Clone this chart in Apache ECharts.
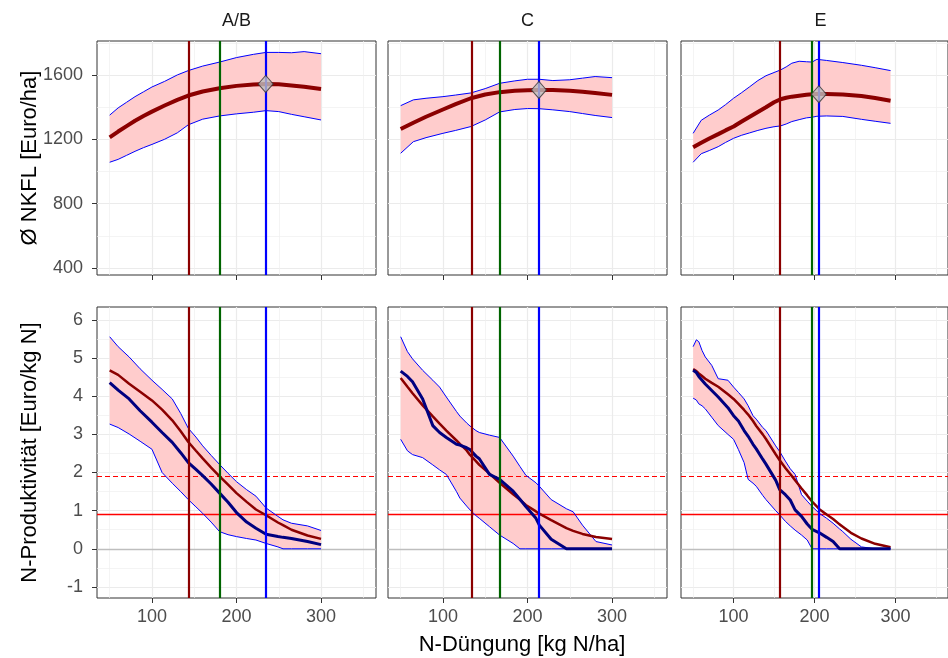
<!DOCTYPE html>
<html><head><meta charset="utf-8">
<script src="https://cdn.jsdelivr.net/npm/echarts@6/dist/echarts.min.js"></script>
<style>html,body{margin:0;padding:0;background:#fff}#c{width:948px;height:658px}</style>
</head><body><div id="c"></div><script>
// ---------- data ----------
const panelNames = ['A/B', 'C', 'E'];
const xTicks = [100, 200, 300];
const xMinorTicks = [50, 150, 250, 350];
const yTopTicks = [400, 800, 1200, 1600];
const yTopMinorTicks = [600, 1000, 1400, 1800];
const yBotTicks = [-1, 0, 1, 2, 3, 4, 5, 6];
const yBotMinorTicks = [-0.5, 0.5, 1.5, 2.5, 3.5, 4.5, 5.5];

const vRed = [143.4, 133.6, 157.5];
const vGreen = [179.7, 167.0, 196.8];
const vBlue = [234.5, 213.5, 205.4];
const optNKFL = [1544, 1507, 1480];
const hDashed = 1.9;
const hSolid = 0.92;
const hZero = 0;

// top row: Ø NKFL
const topX_AB = [50,60,70,80,90,100,115,130,143,160,180,200,220,235,250,265,280,300];
const topMean_AB = [1212,1248,1282,1315,1345,1372,1410,1445,1472,1497,1517,1532,1540,1544,1542,1535,1527,1513];
const topUpper_AB = [1350,1395,1430,1465,1495,1525,1560,1600,1627,1655,1680,1708,1728,1740,1740,1738,1745,1732];
const topLower_AB = [1057,1075,1100,1125,1148,1168,1200,1240,1290,1325,1345,1358,1368,1378,1372,1355,1340,1320];

const topX_C = [50,65,80,100,115,133,150,167,185,200,214,230,250,265,280,300];
const topMean_C = [1264,1303,1340,1385,1418,1455,1478,1493,1501,1505,1507,1506,1501,1496,1488,1476];
const topUpper_C = [1409,1445,1455,1465,1475,1488,1515,1548,1563,1573,1573,1565,1570,1580,1590,1583];
const topLower_C = [1113,1185,1210,1237,1255,1279,1320,1370,1385,1391,1390,1383,1372,1360,1348,1335];

const topX_E = [50,60,70,81,90,100,110,120,130,140,150,158,165,172,181,190,197,203,215,235,258,275,294];
const topMean_E = [1150,1178,1205,1232,1255,1279,1310,1340,1370,1399,1430,1449,1458,1465,1471,1477,1480,1481,1481,1478,1469,1456,1440];
const topUpper_E = [1237,1318,1350,1382,1415,1455,1490,1527,1565,1595,1615,1631,1650,1673,1685,1682,1680,1697,1690,1677,1660,1645,1627];
const topLower_E = [1057,1110,1130,1154,1180,1206,1225,1240,1255,1268,1278,1283,1295,1310,1322,1333,1337,1343,1345,1342,1324,1312,1299];

// bottom row: N-Produktivität
const botX_AB = [50,60,73,86,100,112,124,134,143,152,160,170,180,190,200,212,223,235,249,255,265,284,300];
const botFit_AB = [4.68,4.56,4.33,4.12,3.89,3.65,3.37,3.08,2.80,2.57,2.37,2.13,1.90,1.68,1.46,1.23,1.03,0.88,0.69,0.62,0.50,0.35,0.26];
const botMed_AB = [4.36,4.16,3.93,3.62,3.32,3.05,2.79,2.52,2.26,2.08,1.92,1.70,1.46,1.22,0.95,0.70,0.54,0.38,0.32,0.30,0.27,0.19,0.11];
const botUpper_AB = [5.56,5.30,5.03,4.72,4.42,4.18,3.93,3.55,3.16,2.93,2.70,2.45,2.21,1.98,1.76,1.55,1.38,1.07,0.85,0.76,0.67,0.60,0.48];
const botLower_AB = [3.27,3.18,3.01,2.82,2.61,2.00,1.72,1.50,1.29,1.10,0.93,0.70,0.45,0.37,0.32,0.27,0.23,0.14,0.05,0,0,0,0];

const botX_C = [50,58,64,76,88,96,104,116,120,128,132,139,143,155,167,183,191,198,210,214,228,246,254,265,281,300];
const botFit_C = [4.48,4.25,4.08,3.76,3.47,3.28,3.10,2.84,2.75,2.58,2.46,2.30,2.20,1.97,1.73,1.43,1.29,1.15,0.98,0.92,0.75,0.54,0.47,0.39,0.31,0.26];
const botMed_C = [4.66,4.52,4.38,3.93,3.23,3.05,2.92,2.74,2.72,2.65,2.60,2.43,2.36,1.95,1.82,1.51,1.30,1.11,0.80,0.62,0.25,0,0,0,0,0];
const botUpper_C = [5.56,5.17,4.98,4.68,4.42,4.24,3.98,3.60,3.48,3.30,3.22,3.10,3.05,2.98,2.92,2.43,2.16,1.93,1.73,1.64,1.29,1.05,0.97,0.62,0.19,0.10];
const botLower_C = [2.87,2.57,2.47,2.39,2.20,2.07,1.95,1.50,1.33,1.12,1.02,0.87,0.80,0.58,0.36,0.14,0,0,0,0,0,0,0,0,0,0];

const botX_E = [50,54,57,61,65,73,81,93,100,106,113,118,124,128,136,140,152,157,164,170,176,184,191,197,206,215,223,231,235,245,258,275,294];
const botFit_E = [4.71,4.66,4.60,4.53,4.46,4.35,4.25,4.05,3.93,3.80,3.64,3.52,3.35,3.22,3.00,2.88,2.48,2.32,2.12,1.96,1.80,1.58,1.40,1.24,1.04,0.90,0.78,0.64,0.58,0.42,0.27,0.13,0.04];
const botMed_E = [4.68,4.62,4.52,4.42,4.32,4.15,3.98,3.70,3.49,3.35,3.10,2.95,2.74,2.62,2.35,2.22,1.80,1.55,1.42,1.28,1.02,0.85,0.65,0.51,0.42,0.30,0.19,0,0,0,0,0,0];
const botUpper_E = [5.30,5.48,5.43,5.20,5.03,4.81,4.46,4.42,4.24,4.10,3.93,3.75,3.49,3.40,3.18,3.10,2.70,2.55,2.30,2.10,1.95,1.42,1.25,1.11,0.93,0.80,0.67,0.52,0.45,0.25,0.05,0,0];
const botLower_E = [3.95,3.90,3.80,3.75,3.67,3.45,3.23,3.00,2.87,2.60,2.26,1.82,1.72,1.64,1.40,1.29,1.00,0.89,0.72,0.60,0.49,0.36,0.23,0,0,0,0,0,0,0,0,0,0];

// ---------- layout / style ----------
const FONT = 'Liberation Sans, Arial, sans-serif';
const colLeft = [97, 388, 681];
const colWidth = 279;
const rowTop = [41, 307];
const rowHeight = [234, 291];
const xRange = [35, 365];
const yTopRange = [356, 1811];
const yBotRange = [-1.29, 6.34];

const topData = [
  {x: topX_AB, mean: topMean_AB, up: topUpper_AB, lo: topLower_AB},
  {x: topX_C, mean: topMean_C, up: topUpper_C, lo: topLower_C},
  {x: topX_E, mean: topMean_E, up: topUpper_E, lo: topLower_E}
];
const botData = [
  {x: botX_AB, fit: botFit_AB, med: botMed_AB, up: botUpper_AB, lo: botLower_AB},
  {x: botX_C, fit: botFit_C, med: botMed_C, up: botUpper_C, lo: botLower_C},
  {x: botX_E, fit: botFit_E, med: botMed_E, up: botUpper_E, lo: botLower_E}
];

const zip = (xs, ys) => xs.map((x, i) => [x, ys[i]]);
const plain = v => String(v);

const grids = [], xAxes = [], yAxes = [], series = [];
for (let r = 0; r < 2; r++) {
  for (let c = 0; c < 3; c++) {
    grids.push({left: colLeft[c], top: rowTop[r], width: colWidth, height: rowHeight[r],
      show: true, borderColor: '#333333', borderWidth: 1, backgroundColor: '#ffffff', containLabel: false});
  }
}
for (let g = 0; g < 6; g++) {
  const r = g < 3 ? 0 : 1, c = g % 3;
  xAxes.push({type: 'value', gridIndex: g, min: xRange[0], max: xRange[1], position: 'bottom',
    axisLine: {show: false, onZero: false},
    axisTick: {show: true, customValues: xTicks, length: 5, lineStyle: {color: '#333333', width: 1}},
    axisLabel: {show: r === 1, customValues: xTicks, formatter: plain, fontSize: 18, color: '#4D4D4D', margin: 10, fontFamily: FONT},
    splitLine: {show: true, lineStyle: {color: '#EBEBEB', width: 1.2}}
  });
  xAxes.push({type: 'value', gridIndex: g, min: xRange[0], max: xRange[1], position: 'bottom',
    axisLine: {show: false, onZero: false},
    axisTick: {show: false, customValues: xMinorTicks},
    axisLabel: {show: false, customValues: xMinorTicks},
    splitLine: {show: true, lineStyle: {color: '#EFEFEF', width: 0.7}}
  });
  const yr = r === 0 ? yTopRange : yBotRange;
  const yt = r === 0 ? yTopTicks : yBotTicks;
  const ym = r === 0 ? yTopMinorTicks : yBotMinorTicks;
  yAxes.push({type: 'value', gridIndex: g, min: yr[0], max: yr[1], position: 'left',
    axisLine: {show: false, onZero: false},
    axisTick: {show: c === 0, customValues: yt, length: 5, lineStyle: {color: '#333333', width: 1}},
    axisLabel: {show: c === 0, customValues: yt, formatter: plain, fontSize: 18, color: '#4D4D4D', margin: 14, fontFamily: FONT},
    splitLine: {show: true, lineStyle: {color: '#EBEBEB', width: 1.2}}
  });
  yAxes.push({type: 'value', gridIndex: g, min: yr[0], max: yr[1], position: 'left',
    axisLine: {show: false, onZero: false},
    axisTick: {show: false, customValues: ym},
    axisLabel: {show: false, customValues: ym},
    splitLine: {show: true, lineStyle: {color: '#EFEFEF', width: 0.7}}
  });
}

function lineS(g, data, color, width, z) {
  return {type: 'line', xAxisIndex: 2 * g, yAxisIndex: 2 * g, data: data,
    showSymbol: false, symbol: 'none', silent: true, animation: false, z: z,
    lineStyle: {color: color, width: width}};
}
function bandS(g, d) {
  return {type: 'custom', coordinateSystem: 'cartesian2d', xAxisIndex: 2 * g, yAxisIndex: 2 * g,
    data: [[d.x[0], d.lo[0]]], silent: true, animation: false, z: 1, clip: true,
    renderItem: function (params, api) {
      const pts = [];
      for (let i = 0; i < d.x.length; i++) pts.push(api.coord([d.x[i], d.up[i]]));
      for (let i = d.x.length - 1; i >= 0; i--) pts.push(api.coord([d.x[i], d.lo[i]]));
      return {type: 'polygon', shape: {points: pts}, style: {fill: '#FFCCCC', stroke: null}};
    }};
}
// horizontal reference line across the panel, placed through the axes
function hlineS(g, value, color, width, dash, z) {
  return {type: 'custom', coordinateSystem: 'cartesian2d', xAxisIndex: 2 * g, yAxisIndex: 2 * g,
    data: [[xRange[0], value]], silent: true, animation: false, z: z, clip: true,
    renderItem: function (params, api) {
      const a = api.coord([xRange[0], value]);
      const b = api.coord([xRange[1], value]);
      const y = Math.round(a[1]) + 0.5;
      const st = {stroke: color, lineWidth: width, fill: null};
      if (dash) st.lineDash = dash;
      return {type: 'line', shape: {x1: a[0], y1: y, x2: b[0], y2: y}, style: st};
    }};
}
function markS(g, item, z) {
  return {type: 'line', xAxisIndex: 2 * g, yAxisIndex: 2 * g, data: [], silent: true, animation: false, z: z,
    color: item.style.color, itemStyle: {color: item.style.color},
    lineStyle: {color: item.style.color},
    markLine: {silent: true, symbol: ['none', 'none'], label: {show: false}, animation: false, z: z,
      emphasis: {disabled: true}, lineStyle: item.style,
      data: [Object.assign({lineStyle: item.style}, item.pos)]}};
}
function vlines(g, c) {
  return [
    markS(g, {pos: {xAxis: vRed[c]}, style: {color: '#8B0000', width: 2.2, type: 'solid', opacity: 1}}, 4),
    markS(g, {pos: {xAxis: vGreen[c]}, style: {color: '#006400', width: 2.2, type: 'solid', opacity: 1}}, 4),
    markS(g, {pos: {xAxis: vBlue[c]}, style: {color: '#0000FF', width: 2.2, type: 'solid', opacity: 1}}, 4)
  ];
}

for (let c = 0; c < 3; c++) {
  const g = c, d = topData[c];
  series.push(bandS(g, d));
  series.push(lineS(g, zip(d.x, d.up), '#0000FF', 1, 3));
  series.push(lineS(g, zip(d.x, d.lo), '#0000FF', 1, 3));
  series.push(lineS(g, zip(d.x, d.mean), '#8B0000', 4, 3));
  series.push(...vlines(g, c));
  series.push({type: 'scatter', xAxisIndex: 2 * g, yAxisIndex: 2 * g, data: [[vBlue[c], optNKFL[c]]],
    symbol: 'diamond', symbolSize: [15, 17], silent: true, animation: false, z: 6,
    itemStyle: {color: '#BEBEBE', borderColor: '#333333', borderWidth: 1}});

  const gb = c + 3, b = botData[c];
  series.push(bandS(gb, b));
  series.push(hlineS(gb, hZero, '#BEBEBE', 1.3, null, 2));
  series.push(hlineS(gb, hSolid, '#FF0000', 1.4, null, 2));
  series.push(hlineS(gb, hDashed, '#FF0000', 1.2, [5, 3], 2));
  series.push(lineS(gb, zip(b.x, b.up), '#0000FF', 1, 3));
  series.push(lineS(gb, zip(b.x, b.lo), '#0000FF', 1, 3));
  series.push(lineS(gb, zip(b.x, b.fit), '#8B0000', 2.5, 3));
  series.push(lineS(gb, zip(b.x, b.med), '#000080', 3, 3));
  series.push(...vlines(gb, c));
}

const graphic = [];
panelNames.forEach((n, c) => graphic.push({type: 'text', x: colLeft[c] + colWidth / 2, y: 21,
  style: {text: n, align: 'center', verticalAlign: 'middle', fontSize: 18, fill: '#1A1A1A', fontFamily: FONT}}));
graphic.push({type: 'text', x: 522, y: 645,
  style: {text: 'N-Düngung [kg N/ha]', align: 'center', verticalAlign: 'middle', fontSize: 22, fill: '#000000', fontFamily: FONT}});
graphic.push({type: 'text', x: 30, y: rowTop[0] + rowHeight[0] / 2, rotation: Math.PI / 2,
  style: {text: 'Ø NKFL [Euro/ha]', align: 'center', verticalAlign: 'middle', fontSize: 22, fill: '#000000', fontFamily: FONT}});
graphic.push({type: 'text', x: 30, y: rowTop[1] + rowHeight[1] / 2, rotation: Math.PI / 2,
  style: {text: 'N-Produktivität [Euro/kg N]', align: 'center', verticalAlign: 'middle', fontSize: 22, fill: '#000000', fontFamily: FONT}});

const chart = echarts.init(document.getElementById('c'), null, {renderer: 'canvas'});
chart.setOption({
  animation: false,
  backgroundColor: '#ffffff',
  textStyle: {fontFamily: FONT},
  grid: grids, xAxis: xAxes, yAxis: yAxes, series: series, graphic: graphic
});
</script></body></html>
